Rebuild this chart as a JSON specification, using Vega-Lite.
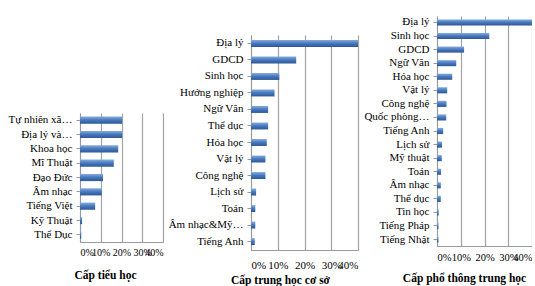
{
  "$schema": "https://vega.github.io/schema/vega-lite/v6.json",
  "padding": {"left": 5, "right": 0, "top": 5, "bottom": 0},
  "spacing": 5,
  "background": "white",
  "config": {
    "view": {"stroke": null},
    "font": "Liberation Serif",
    "axis": {"labelFont": "Liberation Serif", "labelFontSize": 11, "labelColor": "#000", "domainColor": "#999999", "tickColor": "#999999", "gridColor": "#a3a3a3", "gridWidth": 1.2, "titleFont": "Liberation Serif", "titleFontSize": 11.5, "titleFontWeight": "bold", "titleColor": "#000"}
  },
  "datasets": {
    "blank": [{"k": 1}],
    "p1": [
      {"mon": "Tự nhiên  xã…", "v": 0.203},
      {"mon": "Địa lý và…", "v": 0.203},
      {"mon": "Khoa học", "v": 0.184},
      {"mon": "Mĩ Thuật", "v": 0.163},
      {"mon": "Đạo Đức", "v": 0.111},
      {"mon": "Âm nhạc", "v": 0.105},
      {"mon": "Tiếng Việt", "v": 0.073},
      {"mon": "Kỹ Thuật", "v": 0.01},
      {"mon": "Thể Dục", "v": 0.006}
    ],
    "p2": [
      {"mon": "Địa lý", "v": 0.40},
      {"mon": "GDCD", "v": 0.169},
      {"mon": "Sinh học", "v": 0.106},
      {"mon": "Hướng nghiệp", "v": 0.088},
      {"mon": "Ngữ Văn", "v": 0.064},
      {"mon": "Thể dục", "v": 0.064},
      {"mon": "Hóa học", "v": 0.059},
      {"mon": "Vật lý", "v": 0.054},
      {"mon": "Công nghệ", "v": 0.054},
      {"mon": "Lịch sử", "v": 0.019},
      {"mon": "Toán", "v": 0.016},
      {"mon": "Âm nhạc&Mỹ…", "v": 0.016},
      {"mon": "Tiếng Anh", "v": 0.014}
    ],
    "p3": [
      {"mon": "Địa lý", "v": 0.40},
      {"mon": "Sinh học", "v": 0.22},
      {"mon": "GDCD", "v": 0.114},
      {"mon": "Ngữ Văn", "v": 0.081},
      {"mon": "Hóa học", "v": 0.064},
      {"mon": "Vật lý", "v": 0.043},
      {"mon": "Công nghệ", "v": 0.04},
      {"mon": "Quốc phòng…", "v": 0.039},
      {"mon": "Tiếng Anh", "v": 0.026},
      {"mon": "Lịch sử", "v": 0.021},
      {"mon": "Mỹ thuật", "v": 0.02},
      {"mon": "Toán", "v": 0.017},
      {"mon": "Âm nhạc", "v": 0.016},
      {"mon": "Thể dục", "v": 0.016},
      {"mon": "Tin học", "v": 0.007},
      {"mon": "Tiếng Pháp", "v": 0.006},
      {"mon": "Tiếng Nhật", "v": 0.006}
    ]
  },
  "hconcat": [
    {
      "spacing": 0,
      "vconcat": [
        {"width": 1, "height": 108, "data": {"name": "blank"}, "mark": {"type": "point", "opacity": 0}, "encoding": {}},
        {
          "width": 83, "height": 129,
          "data": {"name": "p1"},
          "mark": {"type": "bar", "color": {"gradient": "linear", "x1": 0, "y1": 0, "x2": 0, "y2": 1, "stops": [{"offset": 0, "color": "#86acdc"}, {"offset": 0.5, "color": "#4677bd"}, {"offset": 1, "color": "#2d5894"}]}},
          "encoding": {
            "y": {"field": "mon", "type": "nominal", "sort": null, "scale": {"paddingInner": 0.5, "paddingOuter": 0.25}, "axis": {"title": null, "labelPadding": 4, "tickSize": 4, "minExtent": 72, "maxExtent": 72}},
            "x": {"field": "v", "type": "quantitative", "scale": {"domain": [0, 0.4]}, "axis": {"values": [0, 0.1, 0.2, 0.3, 0.4], "format": ".0%", "labelOverlap": false, "title": "Cấp tiểu học", "titleX": 25, "labelFontSize": 10, "ticks": false, "labelPadding": 5, "titlePadding": 12}}
          }
        }
      ]
    },
    {
      "spacing": 0,
      "vconcat": [
        {"width": 1, "height": 30, "data": {"name": "blank"}, "mark": {"type": "point", "opacity": 0}, "encoding": {}},
        {
          "width": 107, "height": 215,
          "data": {"name": "p2"},
          "mark": {"type": "bar", "color": {"gradient": "linear", "x1": 0, "y1": 0, "x2": 0, "y2": 1, "stops": [{"offset": 0, "color": "#86acdc"}, {"offset": 0.5, "color": "#4677bd"}, {"offset": 1, "color": "#2d5894"}]}},
          "encoding": {
            "y": {"field": "mon", "type": "nominal", "sort": null, "scale": {"paddingInner": 0.58, "paddingOuter": 0.3}, "axis": {"title": null, "labelPadding": 4, "tickSize": 4, "minExtent": 75, "maxExtent": 75}},
            "x": {"field": "v", "type": "quantitative", "scale": {"domain": [0, 0.4]}, "axis": {"values": [0, 0.1, 0.2, 0.3, 0.4], "format": ".0%", "labelOverlap": false, "title": "Cấp trung học cơ sở", "titleX": 29, "labelFontSize": 11, "ticks": false, "labelPadding": 9, "titlePadding": 4}}
          }
        }
      ]
    },
    {
      "spacing": 0,
      "vconcat": [
        {"width": 1, "height": 10, "data": {"name": "blank"}, "mark": {"type": "point", "opacity": 0}, "encoding": {}},
        {
          "width": 95, "height": 230,
          "data": {"name": "p3"},
          "mark": {"type": "bar", "color": {"gradient": "linear", "x1": 0, "y1": 0, "x2": 0, "y2": 1, "stops": [{"offset": 0, "color": "#86acdc"}, {"offset": 0.5, "color": "#4677bd"}, {"offset": 1, "color": "#2d5894"}]}},
          "encoding": {
            "y": {"field": "mon", "type": "nominal", "sort": null, "scale": {"paddingInner": 0.55, "paddingOuter": 0.25}, "axis": {"title": null, "labelPadding": 4, "tickSize": 4, "minExtent": 64, "maxExtent": 64}},
            "x": {"field": "v", "type": "quantitative", "scale": {"domain": [0, 0.4]}, "axis": {"values": [0, 0.1, 0.2, 0.3, 0.4], "format": ".0%", "labelOverlap": false, "title": "Cấp phổ thông trung học", "titleX": 27, "labelFontSize": 10.5, "ticks": false, "labelPadding": 6, "titlePadding": 10}}
          }
        }
      ]
    }
  ]
}
